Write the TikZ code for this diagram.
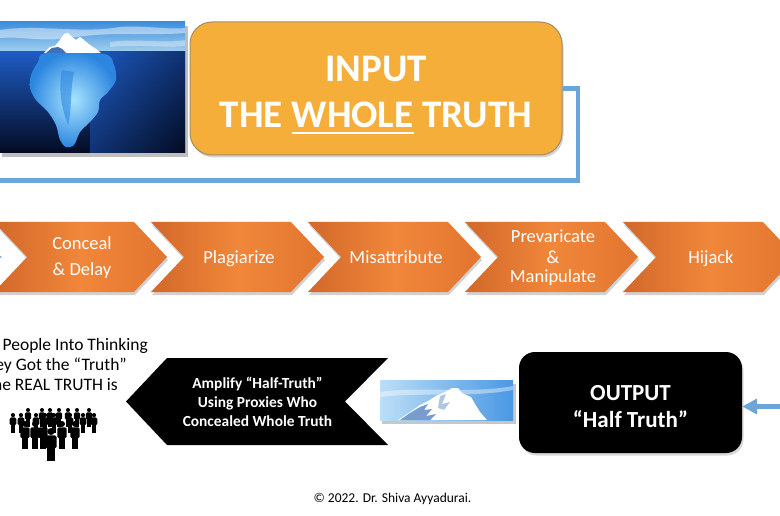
\documentclass[tikz,border=0pt]{standalone}
\usepackage{fontspec}
\setmainfont{Carlito}
\usetikzlibrary{arrows.meta,shadows,calc}
\definecolor{boxorange}{HTML}{F5AE3A}
\definecolor{boxborder}{HTML}{A38E63}
\definecolor{chevmid}{HTML}{F0873A}
\definecolor{chevdark}{HTML}{D2682A}
\definecolor{chevright}{HTML}{E2752F}
\definecolor{blueline}{HTML}{6BA6DA}
\definecolor{skytop}{HTML}{3E8EDC}
\definecolor{skybot}{HTML}{A6D2F0}
\definecolor{watertop}{HTML}{1E5BC4}
\definecolor{waterbot}{HTML}{030B22}
\definecolor{icein}{HTML}{A8E4FF}
\definecolor{iceout}{HTML}{2C86E0}
\definecolor{smskyl}{HTML}{BCDEF6}
\definecolor{smskyr}{HTML}{4A98E4}
\definecolor{iceshade}{HTML}{3E72B8}
\newcommand{\wul}[1]{\setbox0\hbox{#1}\rlap{\rule[-6.2pt]{\wd0}{2.4pt}}\box0\relax}
\begin{document}
\begin{tikzpicture}[x=1pt,y=-1pt,
  conn/.style={draw=blueline,line width=4.5pt},
  chevshape/.style={left color=chevdark,right color=chevright,middle color=chevmid},
  chevshadow/.style={fill=black,opacity=.18},
  chevtext/.style={text=white,font=\fontsize{18.5}{22}\selectfont,anchor=base,inner sep=0pt},
  bigtext/.style={text=white,font=\fontsize{39}{46}\selectfont\bfseries,anchor=base,inner sep=0pt},
  outtext/.style={text=white,font=\fontsize{23}{27}\selectfont\bfseries,anchor=base,inner sep=0pt},
  amptext/.style={text=white,font=\fontsize{15.4}{19}\selectfont\bfseries,anchor=base,inner sep=0pt},
  lefttext/.style={text=black,font=\fontsize{17.5}{20}\selectfont,anchor=base east,inner sep=0pt},
  person/.pic={
    \fill (0,3.2) circle (3.2);
    \fill[rounded corners=1.5pt] (-5,6.8) rectangle (5,18.5);
    \fill (-3.6,16) rectangle (-0.4,30);
    \fill (0.4,16) rectangle (3.6,30);
  }]
\useasboundingbox (0,0) rectangle (780,516);
\fill[white] (0,0) rectangle (780,516);

% ---------- top iceberg picture ----------
\fill[black,opacity=.25] (2,26) rectangle (188,157);
\begin{scope}
\clip (0,22) rectangle (185,153);
\shade[top color=skytop,bottom color=skybot] (0,22) rectangle (185,53);
\fill[white,opacity=.45] (0,30) .. controls (40,24) and (80,34) .. (120,27) .. controls (140,25) and (170,30) .. (185,28) -- (185,33) .. controls (150,36) and (110,31) .. (70,38) .. controls (40,42) and (20,36) .. (0,38) -- cycle;
\fill[white,opacity=.35] (110,42) .. controls (140,38) and (160,44) .. (185,40) -- (185,46) .. controls (160,48) and (140,44) .. (110,47) -- cycle;
\shade[top color=watertop,bottom color=waterbot] (0,52) rectangle (185,153);
\shade[left color=watertop,right color=waterbot,opacity=.5] (90,52) rectangle (185,153);
\shade[inner color=icein,outer color=iceout] plot[smooth cycle] coordinates {(46,53) (38,62) (31,75) (30,88) (36,100) (48,112) (56,125) (60,140) (66,147) (74,145) (80,132) (90,122) (98,112) (100,100) (108,92) (116,80) (114,65) (104,54)};
\fill[iceout,opacity=.6] (62,70) .. controls (58,90) and (62,110) .. (68,125) .. controls (72,110) and (70,90) .. (74,72) -- cycle;
\fill[white] (44,53) -- (50,47) -- (55,46) -- (60,40) -- (64,34) -- (68,33) -- (72,37) -- (76,40) -- (80,37) -- (84,40) -- (90,45) -- (96,49) -- (101,53) -- cycle;
\fill[iceshade] (46,53) -- (52,48) -- (58,47) -- (62,49) -- (66,53) -- cycle;
\end{scope}

% ---------- INPUT box ----------
\node[draw=boxborder,fill=boxorange,line width=1pt,rounded corners=22pt,
      minimum width=372pt,minimum height=133pt,
      drop shadow={opacity=.35,shadow xshift=1.5pt,shadow yshift=-2.5pt}] (in) at (376,88.5) {};
\node[bigtext] (in1) at (376,82) {INPUT};
\node[bigtext] (in2) at (376,128) {THE \wul{WHOLE} TRUTH};

% ---------- connector from INPUT ----------
\coordinate (k1) at (578,88.5);
\coordinate (k2) at (578,180.5);
\coordinate (k3) at (-5,180.5);
\draw[conn] (in.east) -- (k1) -- (k2) -- (k3);

% ---------- chevron row ----------
\foreach \xo in {-6,151,308,465,623}{
  \fill[chevshadow] (\xo+1,225) -- (\xo+141,225) -- (\xo+174,260) -- (\xo+141,295) -- (\xo+1,295) -- (\xo+34,260) -- cycle;
  \shade[chevshape] (\xo,222) -- (\xo+140,222) -- (\xo+173,257) -- (\xo+140,292) -- (\xo,292) -- (\xo+33,257) -- cycle;
}
\fill[blueline] (-6,253) -- (2,257) -- (-6,261) -- cycle;
\node[chevtext] (ch1a) at (82,250) {Conceal};
\node[chevtext] (ch1b) at (82,276) {\& Delay};
\node[chevtext] (ch2) at (239,263) {Plagiarize};
\node[chevtext] (ch3) at (396,263) {Misattribute};
\node[chevtext] (ch4a) at (553,243) {Prevaricate};
\node[chevtext] (ch4b) at (553,263) {\&};
\node[chevtext] (ch4c) at (553,283) {Manipulate};
\node[chevtext] (ch5) at (711,263) {Hijack};

% ---------- OUTPUT box ----------
\node[fill=black,rounded corners=16pt,minimum width=223pt,minimum height=101pt,
      drop shadow={opacity=.3,shadow xshift=1.5pt,shadow yshift=-2.5pt}] (out) at (630.5,402.5) {};
\node[outtext] (out1) at (630.5,400) {OUTPUT};
\node[outtext] (out2) at (630.5,427) {“Half Truth”};
\coordinate (k4) at (785,406.5);
\draw[conn,-{Triangle[length=15pt,width=15pt]}] (k4) -- (out.east |- k4);

% ---------- small iceberg picture ----------
\fill[black,opacity=.22] (382,384) rectangle (516,424);
\begin{scope}
\clip (380,380) rectangle (513,420);
\shade[left color=smskyl,right color=smskyr] (380,380) rectangle (513,420);
\fill[white,opacity=.4] (380,392) .. controls (420,386) and (470,394) .. (513,386) -- (513,390) .. controls (470,398) and (420,392) .. (380,397) -- cycle;
\fill[white] (398,420) -- (410,412) -- (420,405) -- (428,401) -- (436,396) -- (445,392) -- (452,388) -- (458,388) -- (462,393) -- (466,395) -- (471,397) -- (475,404) -- (480,412) -- (487,420) -- cycle;
\fill[iceshade,opacity=.7] (400,420) -- (410,413) -- (420,407) -- (428,404) -- (424,410) -- (432,409) -- (426,416) -- (436,414) -- (430,420) -- cycle;
\fill[iceshade,opacity=.4] (440,396) -- (446,394) -- (442,404) -- (450,402) -- (444,410) -- (438,408) -- cycle;
\end{scope}

% ---------- black chevron ----------
\fill[black] (126,401.5) -- (167,358) -- (388,358) -- (345,401.5) -- (388,445) -- (167,445) -- cycle;
\node[amptext] (am1) at (257.5,388) {Amplify “Half-Truth”};
\node[amptext] (am2) at (257.5,407) {Using Proxies Who};
\node[amptext] (am3) at (257.5,426) {Concealed Whole Truth};

% ---------- left text ----------
\node[lefttext] (lt1) at (148,350) {People Into Thinking};
\node[lefttext] (lt2) at (127,370) {ey Got the “Truth”};
\node[lefttext] (lt3) at (118,390.5) {he REAL TRUTH is};

% ---------- crowd ----------
\foreach \px in {28,42,50,59,68,77,89}{ \pic[scale=.63] at (\px,408) {person}; }
\foreach \px in {13,21,36,45,54,70,83,94}{ \pic[scale=.66] at (\px,413) {person}; }
\foreach \px in {25,35,43,62,75}{ \pic[scale=.93] at (\px,421) {person}; }
\pic[scale=1.1] at (51,428) {person};

% ---------- copyright ----------
\node[text=black,font=\fontsize{13.5}{16}\selectfont,anchor=base,inner sep=0pt] (copy) at (392.5,502) {© 2022. Dr. Shiva Ayyadurai.};
\end{tikzpicture}
\end{document}
